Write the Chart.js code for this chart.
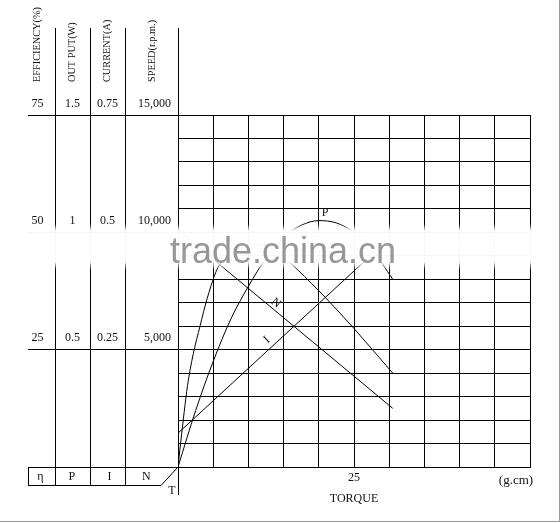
<!DOCTYPE html>
<html><head><meta charset="utf-8">
<script src="https://cdn.jsdelivr.net/npm/chart.js@4.4.0/dist/chart.umd.min.js"></script>
<style>
html,body{margin:0;padding:0;background:#fff;}
#wrap{position:relative;width:560px;height:523px;overflow:hidden;background:#fff;}
#frame{position:absolute;left:0;top:0;width:559px;height:521px;border-right:1px solid #9a9a9a;border-bottom:1px solid #9a9a9a;pointer-events:none;}
canvas{position:absolute;left:0;top:0;}
</style></head><body>
<div id="wrap"><canvas id="c" width="560" height="523" style="width:560px;height:523px"></canvas><div id="frame"></div></div>
<script>
// ---- data ----
const torqueLabelTicks = [25];
const speedTickValues = [5000, 10000, 15000];
const speedTickLabels = ['5,000', '10,000', '15,000'];
const effTickValues = [25, 50, 75];
const effTickLabels = ['25', '50', '75'];
const outTickValues = [0.5, 1, 1.5];
const outTickLabels = ['0.5', '1', '1.5'];
const curTickValues = [0.25, 0.5, 0.75];
const curTickLabels = ['0.25', '0.5', '0.75'];
const columnTitles = ['EFFICIENCY(%)', 'OUT PUT(W)', 'CURRENT(A)', 'SPEED(r.p.m.)'];
const columnSymbols = ['η', 'P', 'I', 'N'];

const effTorque = [0, 0.53, 1.47, 3.37, 4.4, 5.64, 8, 11, 14, 17, 21, 25, 30.5];
const effValues = [0, 7.2, 18.5, 31.5, 37.2, 42.4, 46.5, 47.5, 46, 42, 36, 29.5, 20];
const outTorque = [0, 2.5, 5, 7.5, 10, 12.5, 15, 17.5, 20, 22.5, 25, 27.5, 30.5];
const outValues = [0, 0.24, 0.45, 0.63, 0.77, 0.89, 0.98, 1.03, 1.05, 1.04, 1.0, 0.93, 0.80];
const curTorque = [0, 29];
const curValues = [0.072, 0.473];
const spdTorque = [0, 30.5];
const spdValues = [10100, 2500];

const curveLabels = [
  {text: 'P', axis: 'yP', x: 20.9, y: 1.083, angle: 0},
  {text: 'N', axis: 'yN', x: 13.9, y: 6990, angle: 39.6},
  {text: 'I', axis: 'yI', x: 12.6, y: 0.271, angle: -42.7}
];

const pts = (xs, ys) => xs.map((t, i) => ({x: t, y: ys[i]}));
const SERIF = '"Liberation Serif", "Times New Roman", serif';
const INK = '#111';

const panelPlugin = {
  id: 'panel',
  afterDraw(chart) {
    const {ctx, chartArea: ca, scales} = chart;
    const yN = scales.yN, yE = scales.yE, yP = scales.yP, yI = scales.yI, xs = scales.x;
    ctx.save();
    ctx.strokeStyle = '#000';
    ctx.lineWidth = 1;
    const line = (x1, y1, x2, y2) => { ctx.beginPath(); ctx.moveTo(x1, y1); ctx.lineTo(x2, y2); ctx.stroke(); };
    const L = 28, colX = [55, 90, 125], top = 28, tblB = 485.5;
    const al = v => Math.round(v - 0.5) + 0.5;
    colX.forEach(cx => line(cx + 0.5, top, cx + 0.5, tblB));
    line(al(ca.left), top, al(ca.left), 495);
    speedTickValues.forEach(v => { const py = al(yN.getPixelForValue(v)); line(L, py, ca.left, py); });
    const by = al(ca.bottom);
    line(L, by, ca.left, by);
    line(L + 0.5, by, L + 0.5, tblB);
    line(L, tblB, 161, tblB);
    line(161, tblB, ca.left, ca.bottom);

    // column tick labels
    ctx.fillStyle = INK;
    ctx.font = '12px ' + SERIF;
    ctx.textBaseline = 'middle';
    ctx.textAlign = 'center';
    effTickValues.forEach((v, i) => ctx.fillText(effTickLabels[i], 37.5, yE.getPixelForValue(v) - 11.5));
    outTickValues.forEach((v, i) => ctx.fillText(outTickLabels[i], 72.5, yP.getPixelForValue(v) - 11.5));
    curTickValues.forEach((v, i) => ctx.fillText(curTickLabels[i], 107.5, yI.getPixelForValue(v) - 11.5));
    ctx.textAlign = 'right';
    speedTickValues.forEach((v, i) => ctx.fillText(speedTickLabels[i], 171, yN.getPixelForValue(v) - 11.5));

    // rotated column titles
    ctx.font = '10.3px ' + SERIF;
    ctx.textAlign = 'left';
    const titleX = [37, 72.5, 107.5, 152];
    columnTitles.forEach((t, i) => {
      ctx.save(); ctx.translate(titleX[i], 82); ctx.rotate(-Math.PI / 2);
      ctx.fillText(t, 0, 0); ctx.restore();
    });

    // bottom table symbols
    ctx.font = '12px ' + SERIF;
    ctx.textAlign = 'center';
    const symX = [40.4, 71.8, 109.6, 146.4];
    columnSymbols.forEach((s, i) => ctx.fillText(s, symX[i], 476.5));
    ctx.fillText('T', 172, 491);
    ctx.font = '13px ' + SERIF;
    ctx.fillText('(g.cm)', 516, 481);

    // curve labels
    ctx.font = '12px ' + SERIF;
    curveLabels.forEach(c => {
      const px = xs.getPixelForValue(c.x), py = scales[c.axis].getPixelForValue(c.y);
      ctx.save(); ctx.translate(px, py); ctx.rotate(c.angle * Math.PI / 180);
      ctx.fillText(c.text, 0, 0); ctx.restore();
    });

    // watermark band
    const g = ctx.createLinearGradient(0, 224, 0, 270);
    g.addColorStop(0, 'rgba(255,255,255,0)');
    g.addColorStop(0.15, 'rgba(255,255,255,0.97)');
    g.addColorStop(0.82, 'rgba(255,255,255,0.97)');
    g.addColorStop(1, 'rgba(255,255,255,0)');
    ctx.fillStyle = g;
    ctx.fillRect(0, 224, 556, 46);
    ctx.font = '36px "Liberation Sans", Arial, sans-serif';
    ctx.fillStyle = 'rgba(140,140,140,0.9)';
    ctx.textBaseline = 'alphabetic';
    ctx.textAlign = 'left';
    ctx.fillText('trade.china.cn', 170, 263);
    ctx.restore();
  }
};

const lineDs = (data, axis, smooth) => ({
  data, yAxisID: axis, borderColor: '#000', borderWidth: 1, pointRadius: 0,
  fill: false, cubicInterpolationMode: smooth ? 'monotone' : 'default', tension: 0
});

new Chart(document.getElementById('c'), {
  type: 'line',
  data: {
    datasets: [
      lineDs(pts(effTorque, effValues), 'yE', true),
      lineDs(pts(outTorque, outValues), 'yP', true),
      lineDs(pts(curTorque, curValues), 'yI', false),
      lineDs(pts(spdTorque, spdValues), 'yN', false)
    ]
  },
  options: {
    responsive: false,
    animation: false,
    devicePixelRatio: 1,
    layout: {padding: {left: 178, top: 115, right: 30, bottom: 0}},
    plugins: {legend: {display: false}, tooltip: {enabled: false}},
    scales: {
      x: {
        type: 'linear', position: 'bottom', min: 0, max: 50,
        ticks: {stepSize: 5, autoSkip: false, maxRotation: 0, padding: 4, color: INK,
          font: {family: SERIF, size: 12},
          callback: v => torqueLabelTicks.includes(v) ? String(v) : ''},
        grid: {color: '#000', lineWidth: 1, drawTicks: false},
        border: {color: '#000', width: 1},
        title: {display: true, text: 'TORQUE', color: INK, font: {family: SERIF, size: 12},
          padding: {top: 0, bottom: 17}},
        afterFit: s => { s.height = 56; }
      },
      yN: {
        type: 'linear', position: 'left', min: 0, max: 15000,
        ticks: {display: false, stepSize: 1000},
        grid: {color: '#000', lineWidth: 1, drawTicks: false},
        border: {color: '#000', width: 1},
        afterFit: s => { s.width = 0; }
      },
      yE: {type: 'linear', display: false, min: 0, max: 75},
      yP: {type: 'linear', display: false, min: 0, max: 1.5},
      yI: {type: 'linear', display: false, min: 0, max: 0.75}
    }
  },
  plugins: [panelPlugin]
});
</script>
</body></html>
